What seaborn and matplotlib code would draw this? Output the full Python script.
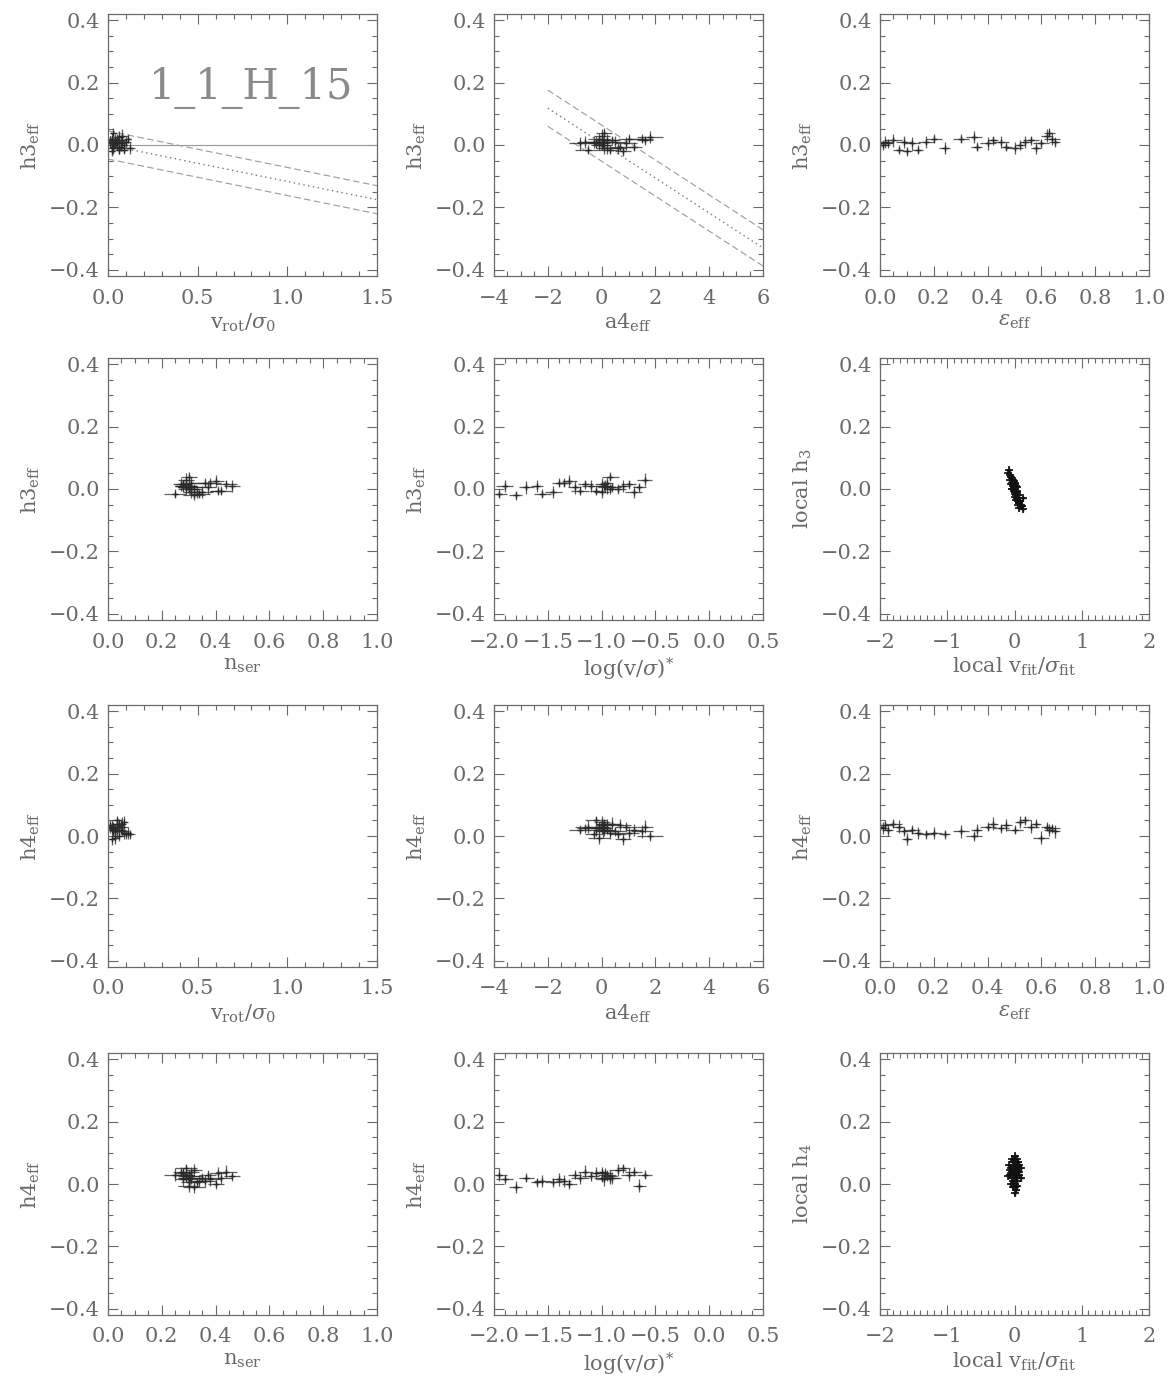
import numpy as np
import pandas as pd
import matplotlib
matplotlib.use("Agg")
import matplotlib.pyplot as plt
from matplotlib.ticker import MultipleLocator
import seaborn as sns

# ---- global (effective) measurements, one entry per projection ----
vrot_sigma = [0.02, 0.03, 0.01, 0.04, 0.05, 0.06, 0.08, 0.02, 0.07, 0.09,
              0.10, 0.11, 0.12, 0.04, 0.06, 0.03, 0.05, 0.08, 0.01, 0.07,
              0.03, 0.09, 0.05, 0.02, 0.06, 0.04, 0.08, 0.03, 0.02, 0.05]
a4_eff = [-0.1, 0.0, 0.1, -0.2, 0.2, -0.5, 0.5, 0.8, -0.8, 0.3,
          -0.3, 1.0, 0.6, 1.5, 1.8, 1.2, 0.9, 0.4, -0.6, 0.7,
          0.2, 0.0, -0.2, 1.6, 0.1, -0.1, 0.0, 0.1, -0.1, 0.05]
eps_eff = [0.00, 0.01, 0.02, 0.03, 0.05, 0.07, 0.09, 0.10, 0.12, 0.14,
           0.17, 0.20, 0.24, 0.30, 0.35, 0.36, 0.40, 0.42, 0.45, 0.47,
           0.50, 0.52, 0.54, 0.56, 0.58, 0.60, 0.62, 0.63, 0.64, 0.65]
n_ser = [0.29, 0.30, 0.28, 0.31, 0.27, 0.25, 0.30, 0.32, 0.29, 0.34,
         0.30, 0.36, 0.33, 0.38, 0.40, 0.42, 0.37, 0.44, 0.46, 0.41,
         0.35, 0.32, 0.29, 0.28, 0.31, 0.30, 0.29, 0.30, 0.31, 0.28]
log_vs = [-0.95, -0.92, -0.97, -0.90, -1.00, -1.95, -1.90, -1.80, -1.70, -1.55,
          -1.60, -1.35, -1.45, -1.40, -1.30, -1.20, -1.25, -1.15, -1.10, -1.05,
          -1.00, -0.85, -0.80, -0.75, -0.70, -0.65, -0.60, -0.92, -0.95, -0.98]
h3_eff = [0.005, 0.000, 0.010, 0.005, 0.015, -0.015, 0.010, -0.020, 0.005, -0.015,
          0.010, 0.020, -0.010, 0.020, 0.025, -0.005, 0.005, 0.015, 0.010, -0.005,
          -0.010, 0.000, 0.010, 0.015, -0.010, 0.005, 0.030, 0.040, 0.020, 0.010]
h4_eff = [0.030, 0.025, 0.035, 0.020, 0.040, 0.030, 0.015, -0.010, 0.020, 0.010,
          0.005, 0.010, 0.005, 0.015, 0.000, 0.020, 0.030, 0.040, 0.025, 0.035,
          0.020, 0.045, 0.050, 0.030, 0.040, -0.005, 0.030, 0.020, 0.025, 0.015]

# uncertainties
vrot_err = [0.03, 0.02, 0.03, 0.02, 0.03, 0.02, 0.03, 0.02, 0.03, 0.02,
            0.03, 0.02, 0.03, 0.02, 0.03, 0.02, 0.03, 0.02, 0.03, 0.02,
            0.03, 0.02, 0.03, 0.02, 0.03, 0.02, 0.03, 0.02, 0.03, 0.02]
a4_err = [0.3, 0.4, 0.3, 0.3, 0.4, 0.5, 0.4, 0.3, 0.4, 0.3,
          0.3, 0.4, 0.3, 0.4, 0.5, 0.3, 0.4, 0.3, 0.3, 0.4,
          0.3, 0.3, 0.4, 0.3, 0.3, 0.4, 0.3, 0.3, 0.4, 0.3]
eps_err = [0.02, 0.02, 0.03, 0.02, 0.03, 0.02, 0.03, 0.02, 0.03, 0.02,
           0.03, 0.03, 0.02, 0.03, 0.03, 0.02, 0.03, 0.02, 0.03, 0.02,
           0.03, 0.02, 0.02, 0.03, 0.02, 0.03, 0.02, 0.02, 0.03, 0.02]
n_ser_err = [0.03, 0.04, 0.03, 0.05, 0.03, 0.04, 0.03, 0.04, 0.03, 0.04,
             0.03, 0.04, 0.03, 0.04, 0.03, 0.04, 0.03, 0.04, 0.03, 0.03,
             0.04, 0.03, 0.04, 0.03, 0.03, 0.04, 0.03, 0.03, 0.04, 0.03]
log_vs_err = [0.08, 0.06, 0.07, 0.08, 0.06, 0.07, 0.08, 0.06, 0.07, 0.08,
              0.06, 0.07, 0.08, 0.06, 0.07, 0.08, 0.06, 0.07, 0.08, 0.06,
              0.07, 0.08, 0.06, 0.07, 0.08, 0.06, 0.07, 0.08, 0.06, 0.07]
h3_err = [0.020, 0.015, 0.020, 0.015, 0.020, 0.015, 0.020, 0.015, 0.020, 0.015,
          0.020, 0.015, 0.020, 0.015, 0.020, 0.015, 0.020, 0.015, 0.020, 0.015,
          0.020, 0.015, 0.020, 0.015, 0.020, 0.015, 0.020, 0.015, 0.020, 0.015]
h4_err = [0.015, 0.020, 0.015, 0.020, 0.015, 0.020, 0.015, 0.020, 0.015, 0.020,
          0.015, 0.020, 0.015, 0.020, 0.015, 0.020, 0.015, 0.020, 0.015, 0.020,
          0.015, 0.020, 0.015, 0.020, 0.015, 0.020, 0.015, 0.020, 0.015, 0.020]

# ---- local (per-pixel) measurements ----
local_vs_h3 = [-0.09, -0.06, -0.05, -0.07, -0.04, -0.03, -0.02, -0.05, -0.02, -0.01,
               -0.01, -0.03, 0.00, 0.01, -0.01, 0.02, 0.01, 0.00, 0.03, 0.02,
               0.01, 0.04, 0.03, 0.02, 0.05, 0.05, 0.03, 0.06, 0.07, 0.08,
               0.09, 0.11, 0.07, 0.12, -0.08, 0.00, 0.03, -0.04, 0.05, 0.13]
local_h3 = [0.050, 0.045, 0.040, 0.030, 0.035, 0.020, 0.030, 0.015, 0.010, 0.025,
            0.005, 0.000, 0.015, 0.000, -0.005, 0.010, -0.010, -0.015, 0.005, -0.020,
            -0.025, -0.010, -0.030, -0.035, -0.020, -0.040, -0.015, -0.030, -0.045, -0.040,
            -0.050, -0.055, -0.060, -0.065, 0.060, 0.020, -0.005, 0.000, -0.050, -0.030]
local_vs_h4 = [-0.08, -0.06, -0.05, -0.04, -0.03, -0.02, -0.03, -0.01, -0.02, -0.01,
               0.00, 0.01, 0.00, 0.00, 0.01, 0.02, 0.01, 0.03, 0.02, 0.02,
               0.04, 0.03, 0.05, 0.04, 0.06, 0.07, -0.05, -0.02, 0.00, 0.03,
               0.06, -0.06, 0.01, 0.04, -0.01, 0.09, -0.09, 0.10, 0.00, 0.02]
local_h4 = [0.060, 0.030, 0.050, 0.080, 0.020, 0.070, 0.040, 0.060, 0.010, 0.030,
            0.090, 0.050, 0.020, -0.010, 0.070, 0.040, 0.000, 0.060, 0.030, -0.020,
            0.050, 0.020, 0.070, 0.010, 0.040, 0.030, 0.000, -0.010, 0.035, 0.080,
            0.060, 0.045, 0.055, -0.005, 0.075, 0.050, 0.025, 0.020, -0.030, 0.045]
local_vs_err = 0.04
local_h_err = 0.01

# ---- reference relations ----
vrot_rel_slope, vrot_rel_halfwidth = -0.117, 0.045
a4_rel_icpt, a4_rel_slope, a4_rel_halfwidth = 0.006, -0.056, 0.058

model_label = "1_1_H_15"

eff = pd.DataFrame(dict(vrot=vrot_sigma, a4=a4_eff, eps=eps_eff, nser=n_ser,
                        logvs=log_vs, h3=h3_eff, h4=h4_eff,
                        vrot_err=vrot_err, a4_err=a4_err, eps_err=eps_err,
                        nser_err=n_ser_err, logvs_err=log_vs_err,
                        h3_err=h3_err, h4_err=h4_err))
loc3 = pd.DataFrame(dict(x=local_vs_h3, y=local_h3))
loc4 = pd.DataFrame(dict(x=local_vs_h4, y=local_h4))

sns.set_style("ticks")
plt.rcParams["font.family"] = ["DejaVu Serif"]
plt.rcParams["mathtext.fontset"] = "dejavuserif"

GRAY = "#6a6a6a"
INK = "#2a2a2a"

fig = plt.figure(figsize=(11.71, 13.83), dpi=100)

W = 1171.0
H = 1383.0
col_left = [108, 494, 880]
row_top = [14, 358, 705, 1053]
ax_w, ax_h = 269, 262

x_specs = {
    "vrot": dict(lim=(0, 1.5), major=0.5, minor=0.1, fmt="{:.1f}",
                 label=r"v$_{\rm rot}$/$\sigma_0$"),
    "a4": dict(lim=(-4, 6), major=2, minor=0.5, fmt="{:.0f}",
               label=r"a4$_{\rm eff}$"),
    "eps": dict(lim=(0, 1.0), major=0.2, minor=0.05, fmt="{:.1f}",
                label=r"$\epsilon_{\rm eff}$"),
    "nser": dict(lim=(0, 1.0), major=0.2, minor=0.05, fmt="{:.1f}",
                 label=r"n$_{\rm ser}$"),
    "logvs": dict(lim=(-2.0, 0.5), major=0.5, minor=0.1, fmt="{:.1f}",
                  label=r"log(v/$\sigma$)$^{*}$"),
    "local": dict(lim=(-2, 2), major=1, minor=0.1, fmt="{:.0f}",
                  label=r"local v$_{\rm fit}$/$\sigma_{\rm fit}$"),
}

layout = [
    [("vrot", "h3"), ("a4", "h3"), ("eps", "h3")],
    [("nser", "h3"), ("logvs", "h3"), ("local", "h3")],
    [("vrot", "h4"), ("a4", "h4"), ("eps", "h4")],
    [("nser", "h4"), ("logvs", "h4"), ("local", "h4")],
]
y_labels = {"h3": r"h3$_{\rm eff}$", "h4": r"h4$_{\rm eff}$"}
local_y_labels = {"h3": r"local h$_3$", "h4": r"local h$_4$"}


def fmt_num(v, fmt):
    s = fmt.format(v)
    if s.startswith("-"):
        s = "\u2212" + s[1:]
    if s == "\u22120.0" or s == "\u22120":
        s = s[1:]
    return s


def style_axes(ax, xs):
    ax.set_xlim(*xs["lim"])
    ax.set_ylim(-0.42, 0.42)
    ax.xaxis.set_major_locator(MultipleLocator(xs["major"]))
    ax.xaxis.set_minor_locator(MultipleLocator(xs["minor"]))
    ax.yaxis.set_major_locator(MultipleLocator(0.2))
    ax.yaxis.set_minor_locator(MultipleLocator(0.05))
    xt = np.round(np.arange(xs["lim"][0], xs["lim"][1] + 1e-9, xs["major"]), 6)
    ax.set_xticks(xt)
    ax.set_xticklabels([fmt_num(v, xs["fmt"]) for v in xt])
    yt = [-0.4, -0.2, 0.0, 0.2, 0.4]
    ax.set_yticks(yt)
    ax.set_yticklabels([fmt_num(v, "{:.1f}") for v in yt])
    ax.tick_params(which="both", direction="in", top=True, right=True,
                   color=GRAY, labelcolor=GRAY, labelsize=15, width=0.8)
    ax.tick_params(which="major", length=7)
    ax.tick_params(which="minor", length=3.5)
    ax.tick_params(axis="x", pad=9)
    ax.tick_params(axis="y", pad=6)
    for sp in ax.spines.values():
        sp.set_color(GRAY)
        sp.set_linewidth(0.9)
        sp.set_visible(True)


for r, row in enumerate(layout):
    for c, (xk, yk) in enumerate(row):
        left = col_left[c] / W
        bottom = 1 - (row_top[r] + ax_h) / H
        ax = fig.add_axes([left, bottom, ax_w / W, ax_h / H])
        xs = x_specs[xk]

        if xk == "local":
            d = loc3 if yk == "h3" else loc4
            ax.errorbar(d["x"], d["y"], xerr=local_vs_err, yerr=local_h_err,
                        fmt="none", ecolor="#111111", elinewidth=1.0, alpha=0.8)
            sns.scatterplot(data=d, x="x", y="y", ax=ax, marker="+", s=30,
                            color="#111111", linewidth=1.2, legend=False)
            ylab = local_y_labels[yk]
        else:
            if r == 0 and c == 0:
                xx = np.array(xs["lim"])
                ax.axhline(0.0, color="#9a9a9a", lw=0.8, zorder=1)
                mid = vrot_rel_slope * xx
                ax.plot(xx, mid, ls=(0, (1, 2.5)), color="#777777", lw=1.0)
                ax.plot(xx, mid + vrot_rel_halfwidth, ls=(0, (6, 3)),
                        color="#9a9a9a", lw=0.8)
                ax.plot(xx, mid - vrot_rel_halfwidth, ls=(0, (6, 3)),
                        color="#9a9a9a", lw=0.8)
                ax.text(0.23, 0.146, model_label, fontsize=30, color="#8a8a8a",
                        va="baseline", ha="left", family="DejaVu Serif")
            if r == 0 and c == 1:
                xx = np.array([-2.0, 6.0])
                mid = a4_rel_icpt + a4_rel_slope * xx
                ax.plot(xx, mid, ls=(0, (1, 2.5)), color="#777777", lw=1.0)
                ax.plot(xx, mid + a4_rel_halfwidth, ls=(0, (6, 3)),
                        color="#9a9a9a", lw=0.8)
                ax.plot(xx, mid - a4_rel_halfwidth, ls=(0, (6, 3)),
                        color="#9a9a9a", lw=0.8)
            ax.errorbar(eff[xk], eff[yk], xerr=eff[xk + "_err"],
                        yerr=eff[yk + "_err"], fmt="none", ecolor=INK,
                        elinewidth=0.9, alpha=0.75)
            sns.scatterplot(data=eff, x=xk, y=yk, ax=ax, marker="+", s=25,
                            color=INK, linewidth=1.0, legend=False)
            ylab = y_labels[yk]

        style_axes(ax, xs)
        ax.set_xlabel(xs["label"], fontsize=15, color=GRAY, labelpad=3)
        ax.set_ylabel(ylab, fontsize=15, color=GRAY, labelpad=5)

fig.savefig("out.png", dpi=100)
